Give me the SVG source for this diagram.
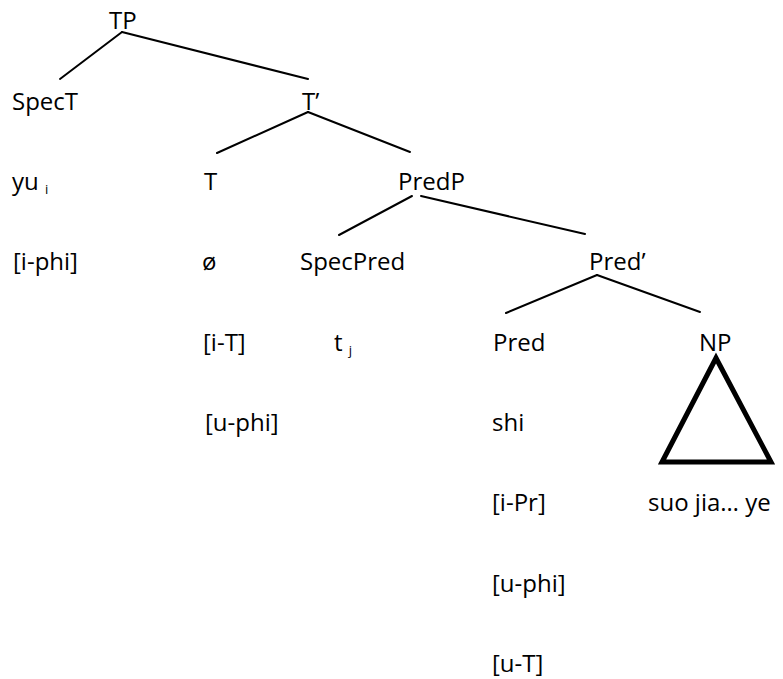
<svg xmlns="http://www.w3.org/2000/svg" width="783" height="679" viewBox="0 0 783 679">
<style>
text{font-family:"Open Sans","Noto Sans","Liberation Sans",sans-serif;font-size:24px;fill:#000}
.sub{font-size:13px;fill:#000}
.edge{stroke:#000;stroke-width:2;fill:none;stroke-linecap:round}
.tri{stroke:#000;stroke-width:5;fill:none;stroke-linejoin:miter}
</style>
<rect width="783" height="679" fill="#fff"/>
<g id="connectors">
<line class="edge" x1="122" y1="32" x2="60" y2="79"/>
<line class="edge" x1="122" y1="32" x2="308" y2="79"/>
<line class="edge" x1="308" y1="112" x2="217" y2="153"/>
<line class="edge" x1="308" y1="112" x2="410" y2="152"/>
<line class="edge" x1="412" y1="196" x2="339" y2="235"/>
<line class="edge" x1="421" y1="196" x2="585" y2="234"/>
<line class="edge" x1="597" y1="275" x2="506" y2="313"/>
<line class="edge" x1="597" y1="275" x2="700" y2="312"/>
</g>
<g id="TP"><text x="109" y="29">TP</text></g>
<g id="SpecT"><text x="12" y="110">SpecT</text></g>
<g id="Tbar"><text x="302" y="110">T’</text></g>
<g id="yu"><text x="12" y="190">yu <tspan class="sub" dy="4">i</tspan></text></g>
<g id="T"><text x="204" y="190">T</text></g>
<g id="PredP"><text x="398" y="190">PredP</text></g>
<g id="iphi"><text x="13" y="270">[i-phi]</text></g>
<g id="null"><text x="202" y="270">ø</text></g>
<g id="SpecPred"><text x="300" y="270">SpecPred</text></g>
<g id="Predbar"><text x="589" y="270">Pred’</text></g>
<g id="iT"><text x="203" y="351">[i-T]</text></g>
<g id="tj"><text x="334" y="351">t <tspan class="sub" dy="4">j</tspan></text></g>
<g id="Pred"><text x="493" y="351">Pred</text></g>
<g id="NP"><text x="699" y="351">NP</text>
<polygon class="tri" points="716,358 662,462 771,462"/></g>
<g id="uphi1"><text x="205" y="431">[u-phi]</text></g>
<g id="shi"><text x="492" y="431">shi</text></g>
<g id="iPr"><text x="492" y="511">[i-Pr]</text></g>
<g id="suo"><text x="648" y="511">suo jia… ye</text></g>
<g id="uphi2"><text x="492" y="592">[u-phi]</text></g>
<g id="uT"><text x="492" y="672">[u-T]</text></g>
</svg>
